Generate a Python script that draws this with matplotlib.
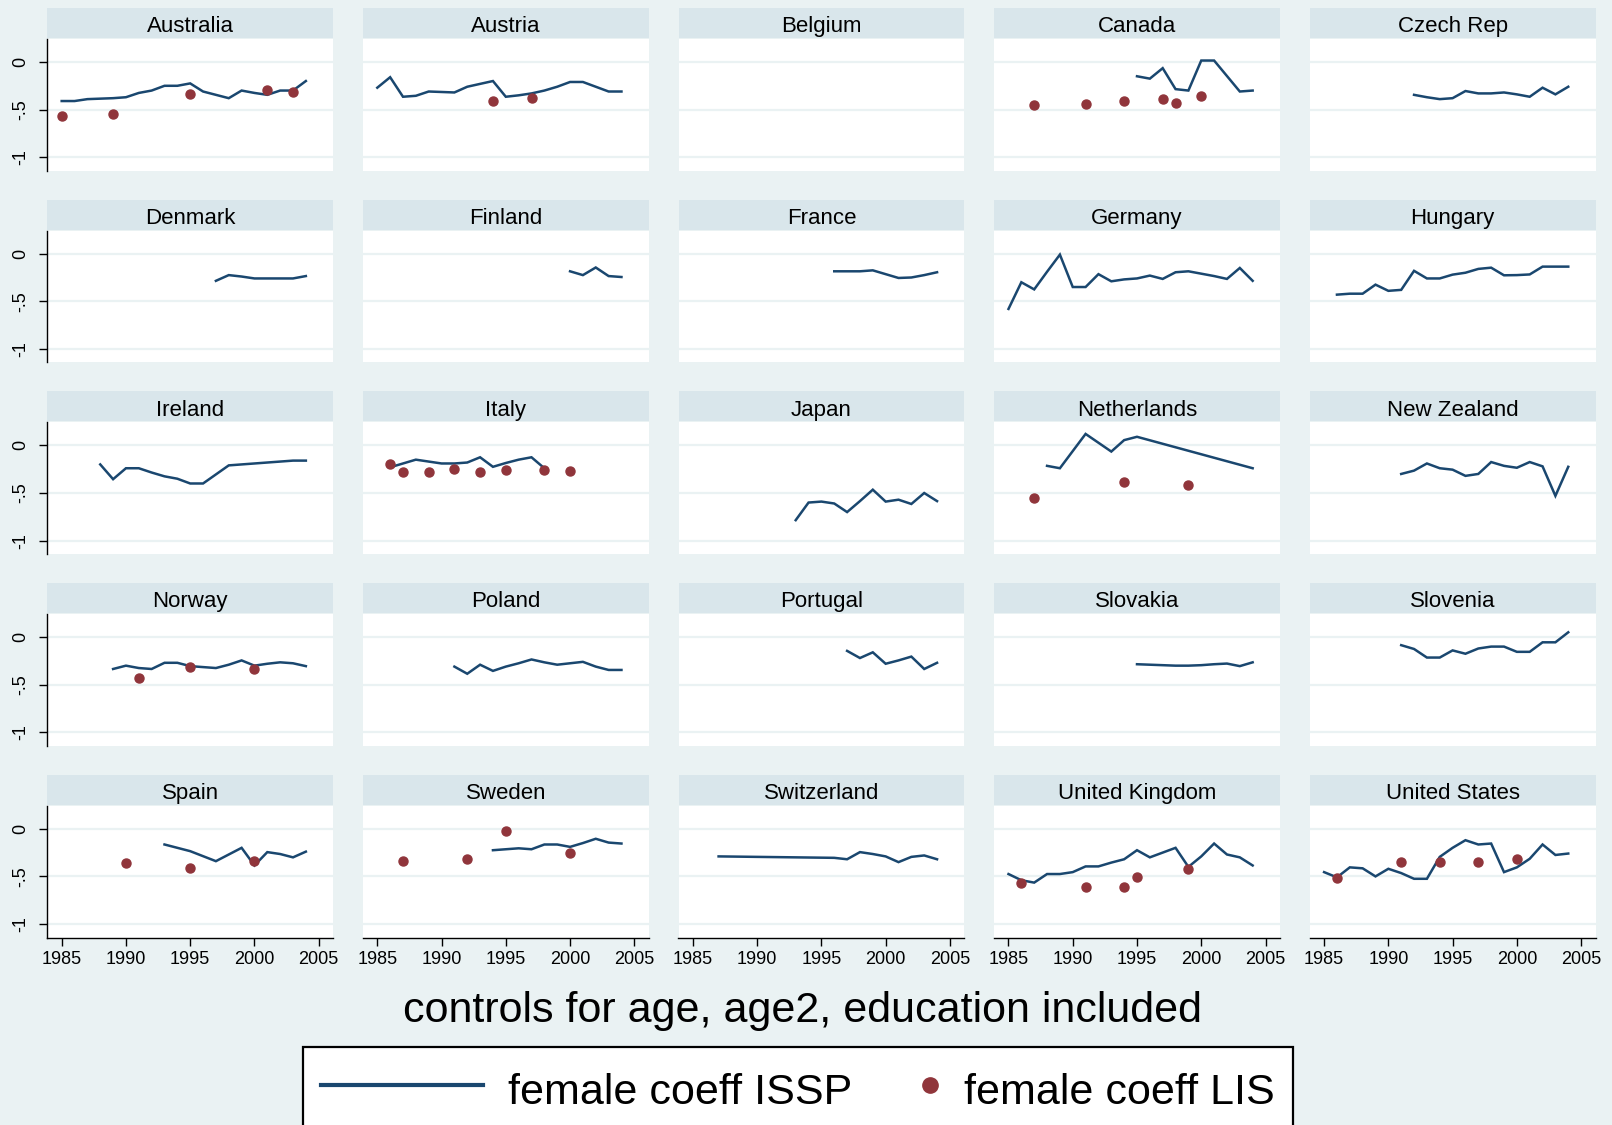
import numpy as np
import matplotlib
matplotlib.use("Agg")
import matplotlib.pyplot as plt
from matplotlib.lines import Line2D
from matplotlib.legend_handler import HandlerLine2D

plt.rcParams['font.family'] = ['Liberation Sans', 'DejaVu Sans']

# ---------------- data ----------------
AUS_YR = [1985, 1986, 1987, 1988, 1989, 1990, 1991, 1992, 1993, 1994, 1995, 1996, 1997, 1998, 1999, 2000, 2001, 2002, 2003, 2004]
AUS_ISSP = [-0.41, -0.41, -0.39, -0.385, -0.38, -0.37, -0.325, -0.30, -0.25, -0.25, -0.225, -0.31, -0.345, -0.38, -0.30, -0.325, -0.345, -0.30, -0.30, -0.20]
AUS_LIS_YR = [1985, 1989, 1995, 2001, 2003]
AUS_LIS = [-0.57, -0.55, -0.335, -0.29, -0.315]

AUT_YR = [1985, 1986, 1987, 1988, 1989, 1990, 1991, 1992, 1993, 1994, 1995, 1996, 1997, 1998, 1999, 2000, 2001, 2002, 2003, 2004]
AUT_ISSP = [-0.27, -0.16, -0.365, -0.355, -0.31, -0.315, -0.32, -0.26, -0.23, -0.20, -0.365, -0.35, -0.33, -0.30, -0.26, -0.21, -0.21, -0.26, -0.31, -0.31]
AUT_LIS_YR = [1994, 1997]
AUT_LIS = [-0.41, -0.38]

BEL_YR, BEL_ISSP, BEL_LIS_YR, BEL_LIS = [], [], [], []

CAN_YR = [1995, 1996, 1997, 1998, 1999, 2000, 2001, 2003, 2004]
CAN_ISSP = [-0.15, -0.175, -0.065, -0.285, -0.30, 0.015, 0.015, -0.31, -0.30]
CAN_LIS_YR = [1987, 1991, 1994, 1997, 1998, 2000]
CAN_LIS = [-0.45, -0.44, -0.41, -0.39, -0.43, -0.36]

CZE_YR = [1992, 1993, 1994, 1995, 1996, 1997, 1998, 1999, 2000, 2001, 2002, 2003, 2004]
CZE_ISSP = [-0.345, -0.37, -0.39, -0.38, -0.305, -0.33, -0.33, -0.32, -0.34, -0.365, -0.27, -0.34, -0.26]

DNK_YR = [1997, 1998, 1999, 2000, 2001, 2002, 2003, 2004]
DNK_ISSP = [-0.285, -0.225, -0.24, -0.26, -0.26, -0.26, -0.26, -0.235]

FIN_YR = [2000, 2001, 2002, 2003, 2004]
FIN_ISSP = [-0.185, -0.225, -0.145, -0.235, -0.245]

FRA_YR = [1996, 1997, 1998, 1999, 2000, 2001, 2002, 2003, 2004]
FRA_ISSP = [-0.185, -0.185, -0.185, -0.175, -0.215, -0.255, -0.25, -0.225, -0.195]

DEU_YR = [1985, 1986, 1987, 1988, 1989, 1990, 1991, 1992, 1993, 1994, 1995, 1996, 1997, 1998, 1999, 2000, 2001, 2002, 2003, 2004]
DEU_ISSP = [-0.58, -0.30, -0.375, -0.19, -0.01, -0.35, -0.35, -0.215, -0.29, -0.27, -0.26, -0.23, -0.265, -0.195, -0.185, -0.21, -0.235, -0.265, -0.15, -0.285]

HUN_YR = [1986, 1987, 1988, 1989, 1990, 1991, 1992, 1993, 1994, 1995, 1996, 1997, 1998, 1999, 2000, 2001, 2002, 2003, 2004]
HUN_ISSP = [-0.43, -0.42, -0.42, -0.325, -0.39, -0.38, -0.18, -0.26, -0.26, -0.22, -0.20, -0.16, -0.147, -0.227, -0.225, -0.218, -0.136, -0.136, -0.136]

IRL_YR = [1988, 1989, 1990, 1991, 1992, 1993, 1994, 1995, 1996, 1998, 2003, 2004]
IRL_ISSP = [-0.20, -0.355, -0.24, -0.24, -0.285, -0.325, -0.35, -0.40, -0.40, -0.21, -0.16, -0.16]

ITA_YR = [1986, 1988, 1989, 1990, 1991, 1992, 1993, 1994, 1995, 1996, 1997, 1998]
ITA_ISSP = [-0.23, -0.15, -0.17, -0.19, -0.19, -0.18, -0.125, -0.225, -0.185, -0.15, -0.125, -0.24]
ITA_LIS_YR = [1986, 1987, 1989, 1991, 1993, 1995, 1998, 2000]
ITA_LIS = [-0.20, -0.28, -0.28, -0.25, -0.28, -0.26, -0.26, -0.265]

JPN_YR = [1993, 1994, 1995, 1996, 1997, 1998, 1999, 2000, 2001, 2002, 2003, 2004]
JPN_ISSP = [-0.785, -0.60, -0.59, -0.61, -0.70, -0.585, -0.465, -0.59, -0.57, -0.615, -0.50, -0.585]

NLD_YR = [1988, 1989, 1991, 1993, 1994, 1995, 2004]
NLD_ISSP = [-0.215, -0.24, 0.12, -0.065, 0.055, 0.09, -0.24]
NLD_LIS_YR = [1987, 1994, 1999]
NLD_LIS = [-0.55, -0.38, -0.42]

NZL_YR = [1991, 1992, 1993, 1994, 1995, 1996, 1997, 1998, 1999, 2000, 2001, 2002, 2003, 2004]
NZL_ISSP = [-0.30, -0.265, -0.19, -0.24, -0.255, -0.32, -0.30, -0.175, -0.215, -0.235, -0.175, -0.22, -0.53, -0.225]

NOR_YR = [1989, 1990, 1991, 1992, 1993, 1994, 1995, 1996, 1997, 1998, 1999, 2000, 2001, 2002, 2003, 2004]
NOR_ISSP = [-0.335, -0.30, -0.325, -0.335, -0.27, -0.27, -0.305, -0.315, -0.325, -0.29, -0.245, -0.30, -0.28, -0.265, -0.275, -0.305]
NOR_LIS_YR = [1991, 1995, 2000]
NOR_LIS = [-0.425, -0.315, -0.335]

POL_YR = [1991, 1992, 1993, 1994, 1995, 1996, 1997, 1998, 1999, 2000, 2001, 2002, 2003, 2004]
POL_ISSP = [-0.31, -0.385, -0.29, -0.355, -0.31, -0.275, -0.235, -0.265, -0.29, -0.275, -0.26, -0.31, -0.345, -0.345]

PRT_YR = [1997, 1998, 1999, 2000, 2001, 2002, 2003, 2004]
PRT_ISSP = [-0.145, -0.22, -0.16, -0.28, -0.245, -0.205, -0.335, -0.27]

SVK_YR = [1995, 1996, 1997, 1998, 1999, 2000, 2001, 2002, 2003, 2004]
SVK_ISSP = [-0.285, -0.29, -0.295, -0.30, -0.30, -0.295, -0.285, -0.278, -0.305, -0.265]

SVN_YR = [1991, 1992, 1993, 1994, 1995, 1996, 1997, 1998, 1999, 2000, 2001, 2002, 2003, 2004]
SVN_ISSP = [-0.085, -0.125, -0.215, -0.215, -0.14, -0.175, -0.12, -0.10, -0.10, -0.155, -0.155, -0.055, -0.055, 0.05]

ESP_YR = [1993, 1995, 1997, 1998, 1999, 2000, 2001, 2002, 2003, 2004]
ESP_ISSP = [-0.165, -0.235, -0.34, -0.27, -0.20, -0.385, -0.245, -0.265, -0.30, -0.24]
ESP_LIS_YR = [1990, 1995, 2000]
ESP_LIS = [-0.36, -0.415, -0.34]

SWE_YR = [1994, 1995, 1996, 1997, 1998, 1999, 2000, 2001, 2002, 2003, 2004]
SWE_ISSP = [-0.225, -0.215, -0.205, -0.215, -0.165, -0.165, -0.19, -0.15, -0.105, -0.145, -0.155]
SWE_LIS_YR = [1987, 1992, 1995, 2000]
SWE_LIS = [-0.34, -0.315, -0.025, -0.255]

CHE_YR = [1987, 1996, 1997, 1998, 1999, 2000, 2001, 2002, 2003, 2004]
CHE_ISSP = [-0.29, -0.305, -0.32, -0.245, -0.265, -0.29, -0.35, -0.295, -0.28, -0.32]

GBR_YR = [1985, 1986, 1987, 1988, 1989, 1990, 1991, 1992, 1993, 1994, 1995, 1996, 1997, 1998, 1999, 2000, 2001, 2002, 2003, 2004]
GBR_ISSP = [-0.475, -0.54, -0.565, -0.475, -0.475, -0.455, -0.395, -0.395, -0.355, -0.32, -0.225, -0.30, -0.25, -0.20, -0.40, -0.29, -0.155, -0.27, -0.30, -0.385]
GBR_LIS_YR = [1986, 1991, 1994, 1995, 1999]
GBR_LIS = [-0.57, -0.615, -0.615, -0.51, -0.425]

USA_YR = [1985, 1986, 1987, 1988, 1989, 1990, 1991, 1992, 1993, 1994, 1995, 1996, 1997, 1998, 1999, 2000, 2001, 2002, 2003, 2004]
USA_ISSP = [-0.455, -0.51, -0.405, -0.415, -0.50, -0.42, -0.465, -0.525, -0.525, -0.295, -0.20, -0.12, -0.165, -0.155, -0.455, -0.405, -0.315, -0.165, -0.275, -0.26]
USA_LIS_YR = [1986, 1991, 1994, 1997, 2000]
USA_LIS = [-0.515, -0.35, -0.35, -0.35, -0.315]

EMPTY = []

PANELS = [
    ("Australia", AUS_YR, AUS_ISSP, AUS_LIS_YR, AUS_LIS),
    ("Austria", AUT_YR, AUT_ISSP, AUT_LIS_YR, AUT_LIS),
    ("Belgium", BEL_YR, BEL_ISSP, BEL_LIS_YR, BEL_LIS),
    ("Canada", CAN_YR, CAN_ISSP, CAN_LIS_YR, CAN_LIS),
    ("Czech Rep", CZE_YR, CZE_ISSP, EMPTY, EMPTY),
    ("Denmark", DNK_YR, DNK_ISSP, EMPTY, EMPTY),
    ("Finland", FIN_YR, FIN_ISSP, EMPTY, EMPTY),
    ("France", FRA_YR, FRA_ISSP, EMPTY, EMPTY),
    ("Germany", DEU_YR, DEU_ISSP, EMPTY, EMPTY),
    ("Hungary", HUN_YR, HUN_ISSP, EMPTY, EMPTY),
    ("Ireland", IRL_YR, IRL_ISSP, EMPTY, EMPTY),
    ("Italy", ITA_YR, ITA_ISSP, ITA_LIS_YR, ITA_LIS),
    ("Japan", JPN_YR, JPN_ISSP, EMPTY, EMPTY),
    ("Netherlands", NLD_YR, NLD_ISSP, NLD_LIS_YR, NLD_LIS),
    ("New Zealand", NZL_YR, NZL_ISSP, EMPTY, EMPTY),
    ("Norway", NOR_YR, NOR_ISSP, NOR_LIS_YR, NOR_LIS),
    ("Poland", POL_YR, POL_ISSP, EMPTY, EMPTY),
    ("Portugal", PRT_YR, PRT_ISSP, EMPTY, EMPTY),
    ("Slovakia", SVK_YR, SVK_ISSP, EMPTY, EMPTY),
    ("Slovenia", SVN_YR, SVN_ISSP, EMPTY, EMPTY),
    ("Spain", ESP_YR, ESP_ISSP, ESP_LIS_YR, ESP_LIS),
    ("Sweden", SWE_YR, SWE_ISSP, SWE_LIS_YR, SWE_LIS),
    ("Switzerland", CHE_YR, CHE_ISSP, EMPTY, EMPTY),
    ("United Kingdom", GBR_YR, GBR_ISSP, GBR_LIS_YR, GBR_LIS),
    ("United States", USA_YR, USA_ISSP, USA_LIS_YR, USA_LIS),
]

X_TICKS = [1985, 1990, 1995, 2000, 2005]
Y_TICKS = [0, -0.5, -1]
Y_TICKLABELS = ["0", "-.5", "-1"]
TITLE = "controls for age, age2, education included"
LEG_LABELS = ["female coeff ISSP", "female coeff LIS"]

# ---------------- style ----------------
BG = "#eaf2f3"
STRIP = "#d9e6eb"
LINE_C = "#1a476f"
DOT_C = "#90353b"

W, H = 1612, 1125
fig = plt.figure(figsize=(W / 100, H / 100), dpi=100, facecolor=BG)

PW, PH = 285.8, 131.7
X0, DX = 47.3, 315.6
Y0, DY = 39.0, 191.7
STRIP_H = 30.0

for i, (name, yr, issp, lyr, lis) in enumerate(PANELS):
    r, c = divmod(i, 5)
    left = X0 + DX * c
    top = Y0 + DY * r
    ax = fig.add_axes([left / W, 1 - (top + PH) / H, PW / W, PH / H])
    ax.set_facecolor("white")
    ax.set_xlim(1983.88, 2006.12)
    ax.set_ylim(-1.141, 0.241)
    for gy in Y_TICKS:
        ax.axhline(gy, color=BG, lw=1.6, zorder=1)
    if len(yr):
        ax.plot(yr, issp, color=LINE_C, lw=1.8, zorder=3, solid_joinstyle='miter')
    if len(lyr):
        ax.plot(lyr, lis, 'o', color=DOT_C, ms=6.5, mec=DOT_C, zorder=4)
    for s in ax.spines.values():
        s.set_visible(False)
    if c == 0:
        ax.spines['left'].set_visible(True)
        ax.spines['left'].set_color('black')
        ax.spines['left'].set_linewidth(1.0)
        ax.set_yticks(Y_TICKS)
        ax.set_yticklabels(Y_TICKLABELS, rotation=90, va='center', fontsize=13)
        ax.tick_params(axis='y', length=6, width=1.0, pad=7, color='black')
    else:
        ax.set_yticks([])
    if r == 4:
        ax.spines['bottom'].set_visible(True)
        ax.spines['bottom'].set_color('black')
        ax.spines['bottom'].set_linewidth(1.0)
        ax.set_xticks(X_TICKS)
        ax.set_xticklabels([str(t) for t in X_TICKS], fontsize=13)
        ax.tick_params(axis='x', length=6, width=1.0, pad=4, color='black')
    else:
        ax.set_xticks([])

    sax = fig.add_axes([left / W, 1 - (top - 1) / H, PW / W, STRIP_H / H])
    sax.set_facecolor(STRIP)
    sax.set_xticks([]); sax.set_yticks([])
    for s in sax.spines.values():
        s.set_visible(False)
    sax.text(0.5, 0.46, name, ha='center', va='center_baseline', fontsize=16,
             transform=sax.transAxes)

fig.text(802.4 / W, 1 - 1011 / H, TITLE, ha='center', va='center', fontsize=31)


class RightDot(HandlerLine2D):
    def create_artists(self, legend, orig_handle, xdescent, ydescent,
                       width, height, fontsize, trans):
        arts = super().create_artists(legend, orig_handle, xdescent, ydescent,
                                      width, height, fontsize, trans)
        for a in arts:
            xd = np.asarray(a.get_xdata(), dtype=float)
            a.set_xdata(np.full_like(xd, width - xdescent - 0.21 * fontsize))
        return arts


h_line = Line2D([], [], color=LINE_C, lw=3.0)
h_dot = Line2D([], [], color=DOT_C, marker='o', ls='none', ms=11)
leg = fig.legend([h_line, h_dot], LEG_LABELS, ncol=2, loc='upper left',
                 bbox_to_anchor=(303 / W, 1 - 1047 / H), borderaxespad=0,
                 fontsize=31, handlelength=3.76, handletextpad=0.58,
                 handleheight=1.4,
                 columnspacing=-1.74, borderpad=0.42, fancybox=False,
                 frameon=True, edgecolor='black', facecolor='white',
                 framealpha=1, handler_map={h_dot: RightDot(numpoints=1)})
leg.get_frame().set_linewidth(1.6)

fig.savefig("out.png", dpi=100, facecolor=BG)
